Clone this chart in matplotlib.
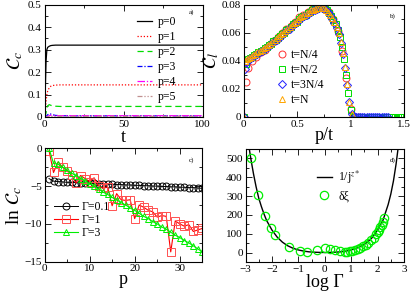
import matplotlib
matplotlib.use("Agg")
import matplotlib.pyplot as plt
from matplotlib.ticker import MultipleLocator, FixedLocator

plt.rcParams['font.family'] = ['Liberation Serif', 'DejaVu Serif']
plt.rcParams['mathtext.fontset'] = 'stix'

# ---------------- panel a data ----------------
t_a = [0, 0.5, 1, 1.5, 2, 3, 4, 5, 7, 10, 20, 40, 60, 80, 100]
a_p0 = [0, 0.12, 0.25, 0.30, 0.31, 0.315, 0.318, 0.319, 0.32, 0.32, 0.32, 0.32, 0.32, 0.32, 0.32]
a_p1 = [0, 0.03, 0.07, 0.10, 0.115, 0.13, 0.137, 0.14, 0.142, 0.143, 0.143, 0.143, 0.143, 0.143, 0.143]
a_p2 = [0, 0.005, 0.02, 0.04, 0.05, 0.055, 0.052, 0.05, 0.048, 0.047, 0.047, 0.047, 0.047, 0.047, 0.047]
a_p3 = [0, 0, 0.002, 0.006, 0.010, 0.015, 0.013, 0.010, 0.007, 0.006, 0.005, 0.005, 0.005, 0.005, 0.005]
a_p4 = [0, 0, 0, 0.001, 0.003, 0.006, 0.008, 0.007, 0.006, 0.006, 0.006, 0.006, 0.006, 0.006, 0.006]
a_p5 = [0, 0, 0, 0, 0.001, 0.002, 0.003, 0.003, 0.003, 0.003, 0.003, 0.003, 0.003, 0.003, 0.003]
a_labels = ["p=0", "p=1", "p=2", "p=3", "p=4", "p=5"]

# ---------------- panel b data ----------------
b_red_x = [0, 0.02, 0.04, 0.08, 0.12, 0.16, 0.20, 0.24, 0.28, 0.32, 0.36, 0.40, 0.44, 0.48, 0.52,
           0.56, 0.60, 0.64, 0.68, 0.72, 0.76, 0.80, 0.84, 0.88, 0.92, 0.96, 1.00, 1.04, 1.08]
b_red_y = [0, 0.025, 0.035, 0.040, 0.043, 0.046, 0.048, 0.051, 0.054, 0.057, 0.060, 0.063, 0.065,
           0.068, 0.071, 0.073, 0.075, 0.077, 0.079, 0.079, 0.078, 0.075, 0.070, 0.061, 0.047,
           0.028, 0.006, 0.0, 0.0]

b_grn_x = [0, 0.02, 0.04, 0.06, 0.08, 0.10, 0.12, 0.14, 0.16, 0.18, 0.20, 0.22, 0.24, 0.26, 0.28,
           0.30, 0.32, 0.34, 0.36, 0.38, 0.40, 0.42, 0.44, 0.46, 0.48, 0.50, 0.52, 0.54, 0.56, 0.58,
           0.60, 0.62, 0.64, 0.66, 0.68, 0.70, 0.72, 0.74, 0.76, 0.78, 0.80, 0.82, 0.84, 0.86, 0.88,
           0.90, 0.92, 0.94, 0.96, 0.98, 1.00, 1.02, 1.04, 1.06, 1.08, 1.10, 1.12, 1.14, 1.16, 1.18,
           1.20, 1.22, 1.24, 1.26, 1.28, 1.30, 1.32, 1.34, 1.36, 1.38, 1.40, 1.42, 1.44, 1.46, 1.48,
           1.50]
b_grn_y = [0, 0.038, 0.041, 0.042, 0.043, 0.044, 0.045, 0.046, 0.047, 0.048, 0.049, 0.050, 0.051,
           0.052, 0.054, 0.055, 0.056, 0.058, 0.059, 0.060, 0.062, 0.063, 0.064, 0.066, 0.067, 0.068,
           0.070, 0.071, 0.072, 0.073, 0.074, 0.075, 0.076, 0.077, 0.077, 0.078, 0.078, 0.078, 0.077,
           0.076, 0.074, 0.072, 0.069, 0.066, 0.062, 0.057, 0.050, 0.041, 0.030, 0.017, 0.005, 0.0,
           0.0, 0.0, 0.0, 0.0, 0.0, 0.0, 0.0, 0.0, 0.0, 0.0, 0.0, 0.0, 0.0, 0.0, 0.0, 0.0, 0.0, 0.0,
           0.0, 0.0, 0.0, 0.0, 0.0, 0.0]

b_blu_x = [0, 0.01, 0.03, 0.05, 0.07, 0.09, 0.11, 0.13, 0.15, 0.17, 0.19, 0.21, 0.23, 0.25, 0.27,
           0.29, 0.31, 0.33, 0.35, 0.37, 0.39, 0.41, 0.43, 0.45, 0.47, 0.49, 0.51, 0.53, 0.55, 0.57,
           0.59, 0.61, 0.63, 0.65, 0.67, 0.69, 0.71, 0.73, 0.75, 0.77, 0.79, 0.81, 0.83, 0.85, 0.87,
           0.89, 0.91, 0.93, 0.95, 0.97, 0.99, 1.01, 1.03, 1.05, 1.07, 1.09, 1.11, 1.13, 1.15, 1.17,
           1.19, 1.21, 1.23, 1.25, 1.27, 1.29, 1.31, 1.33, 1.35]
b_blu_y = [0, 0.034, 0.039, 0.041, 0.042, 0.043, 0.044, 0.045, 0.046, 0.047, 0.048, 0.049, 0.050,
           0.051, 0.0525, 0.054, 0.055, 0.0565, 0.058, 0.059, 0.0605, 0.062, 0.063, 0.0645, 0.066,
           0.067, 0.0685, 0.070, 0.071, 0.072, 0.073, 0.074, 0.075, 0.076, 0.0765, 0.077, 0.0775,
           0.0775, 0.077, 0.076, 0.0745, 0.0725, 0.070, 0.067, 0.0635, 0.059, 0.053, 0.045, 0.035,
           0.023, 0.011, 0.002, 0.0, 0.0, 0.0, 0.0, 0.0, 0.0, 0.0, 0.0, 0.0, 0.0, 0.0, 0.0, 0.0,
           0.0, 0.0, 0.0, 0.0]

b_org_x = [0, 0.01, 0.03, 0.05, 0.07, 0.09, 0.11, 0.13, 0.15, 0.17, 0.19, 0.21, 0.23, 0.25, 0.27,
           0.29, 0.31, 0.33, 0.35, 0.37, 0.39, 0.41, 0.43, 0.45, 0.47, 0.49, 0.51, 0.53, 0.55, 0.57,
           0.59, 0.61, 0.63, 0.65, 0.67, 0.69, 0.71, 0.73, 0.75, 0.77, 0.79, 0.81, 0.83, 0.85, 0.87,
           0.89, 0.91, 0.93, 0.95, 0.97, 0.99, 1.01]
b_org_y = [0, 0.040, 0.041, 0.042, 0.043, 0.044, 0.045, 0.046, 0.047, 0.048, 0.049, 0.050, 0.051,
           0.052, 0.0535, 0.055, 0.056, 0.0575, 0.059, 0.060, 0.0615, 0.063, 0.064, 0.0655, 0.067,
           0.068, 0.0695, 0.071, 0.072, 0.073, 0.074, 0.075, 0.076, 0.0765, 0.077, 0.0775, 0.078,
           0.078, 0.0775, 0.0765, 0.075, 0.073, 0.0705, 0.0675, 0.064, 0.0595, 0.0535, 0.0455,
           0.0355, 0.0235, 0.011, 0.002]
b_labels = ["t=N/4", "t=N/2", "t=3N/4", "t=N"]

# ---------------- panel c data ----------------
p_c = list(range(1, 36))
c_g01 = [-4.0, -4.35, -4.4, -4.45, -4.5, -4.5, -4.55, -4.6, -4.6, -4.65, -4.65, -4.7, -4.7, -4.75,
         -4.75, -4.8, -4.8, -4.85, -4.85, -4.9, -4.9, -4.95, -4.95, -5.0, -5.0, -5.05, -5.05, -5.1,
         -5.1, -5.15, -5.15, -5.2, -5.2, -5.25, -5.3]
c_g1 = [-0.3, -3.2, -1.8, -2.5, -3.0, -3.5, -4.6, -3.6, -4.0, -4.4, -3.9, -5.0, -5.3, -5.1, -7.6,
        -6.0, -6.8, -6.9, -6.8, -9.3, -7.5, -7.8, -8.2, -8.4, -9.1, -8.9, -9.0, -13.7, -9.6, -10.0,
        -10.3, -10.1, -11.0, -10.8, -10.6]
c_g3 = [0.0, -2.0, -2.1, -2.5, -2.9, -3.3, -3.6, -4.0, -4.3, -4.7, -5.0, -5.4, -5.8, -6.1, -6.5,
        -6.8, -7.2, -7.5, -7.9, -8.2, -8.6, -9.0, -9.3, -9.7, -10.0, -10.4, -10.7, -11.1, -11.5,
        -11.8, -12.2, -12.5, -12.9, -13.3, -13.7]
c_labels = ["Γ=0.1", "Γ=1", "Γ=3"]

# ---------------- panel d data ----------------
d_curve_x = [-2.95, -2.85, -2.8, -2.7, -2.6, -2.5, -2.4, -2.3, -2.2, -2.0, -1.8, -1.6, -1.4, -1.2,
             -1.0, -0.8, -0.6, -0.4, -0.2, 0.0, 0.2, 0.4, 0.6, 0.8, 1.0, 1.2, 1.4, 1.6, 1.8, 2.0,
             2.2, 2.4, 2.5, 2.6, 2.7, 2.8, 2.85]
d_curve_y = [650, 545, 500, 420, 350, 290, 245, 205, 170, 120, 82, 55, 36, 23, 14, 8, 4, 2, 1, 0.5,
             1, 2, 4, 8, 14, 23, 35, 53, 80, 120, 170, 255, 310, 380, 470, 580, 650]
d_pts_x = [-2.81, -2.54, -2.27, -2.04, -1.88, -1.36, -0.92, -0.67, -0.30, 0.0, 0.2, 0.39, 0.57,
           0.76, 0.85, 0.95, 1.05, 1.15, 1.25, 1.35, 1.45, 1.55, 1.65, 1.75, 1.85, 1.95, 2.0, 2.05,
           2.1, 2.15, 2.2, 2.25]
d_pts_y = [500, 308, 195, 131, 96, 30, 7, 4, 12, 25, 21, 12, 7, 4, 5, 8, 11, 15, 20, 26, 33, 42,
           52, 65, 80, 98, 110, 122, 135, 148, 165, 184]
d_labels = ["1/j$^{z*}$", "δξ"]

# ---------------- figure ----------------
fig = plt.figure(figsize=(4.11, 2.95), dpi=100)
W, H = 411, 295


def ax_at(l, t, r, b):
    return fig.add_axes([l / W, 1 - b / H, (r - l) / W, (b - t) / H])


ax_a = ax_at(44.5, 4.7, 202.5, 117)
ax_b = ax_at(243.5, 4.7, 404, 117)
ax_c = ax_at(44.5, 148.3, 202.3, 261.7)
ax_d = ax_at(245.5, 149, 404, 262)

TICKFS = 8
for ax in (ax_a, ax_b, ax_c, ax_d):
    ax.tick_params(which='both', direction='in', top=True, right=True, labelsize=TICKFS, pad=2,
                   width=0.6)
    ax.tick_params(which='major', length=4)
    ax.tick_params(which='minor', length=2)
    for s in ax.spines.values():
        s.set_linewidth(0.8)

lw = 0.9
# panel a
ax_a.plot(t_a, a_p0, color='black', lw=lw, label=a_labels[0])
ax_a.plot(t_a, a_p1, color='red', lw=lw, ls=(0, (1, 1.5)), label=a_labels[1])
ax_a.plot(t_a, a_p2, color='#00dd00', lw=lw, ls=(0, (5, 3)), label=a_labels[2])
ax_a.plot(t_a, a_p3, color='blue', lw=lw, ls=(0, (4, 1.5, 1, 1.5)), label=a_labels[3])
ax_a.plot(t_a, a_p4, color='magenta', lw=lw, ls=(0, (6, 1.5, 1, 1.5)), label=a_labels[4])
ax_a.plot(t_a, a_p5, color='#c09090', lw=lw, ls=(0, (4, 1.5, 1, 1.5, 1, 1.5)), label=a_labels[5])
ax_a.set_xlim(0, 100)
ax_a.set_ylim(0, 0.5)
ax_a.xaxis.set_major_locator(MultipleLocator(50))
ax_a.xaxis.set_minor_locator(MultipleLocator(25))
ax_a.set_yticks([0, 0.1, 0.2, 0.3, 0.4, 0.5])
ax_a.set_yticklabels(["0", "0.1", "0.2", "0.3", "0.4", "0.5"])
ax_a.yaxis.set_minor_locator(MultipleLocator(0.05))
ax_a.set_xlabel("t", fontsize=13, labelpad=0)
ax_a.set_ylabel(r"$\mathcal{C}_c$", fontsize=14, labelpad=2)
ax_a.legend(loc='upper left', bbox_to_anchor=(0.585, 0.895), frameon=False, fontsize=8.5,
            handlelength=1.3, handletextpad=0.45, labelspacing=0.25, borderpad=0, borderaxespad=0)
ax_a.text(0.93, 0.93, "a)", transform=ax_a.transAxes, fontsize=5, ha='center', va='center')

# panel b
ms_b = 5
mew = 0.7
ax_b.plot(b_red_x, b_red_y, ls='none', marker='o', ms=ms_b, mfc='none', mec='#ff3030', mew=mew,
          label=b_labels[0])
ax_b.plot(b_grn_x, b_grn_y, ls='none', marker='s', ms=ms_b - 0.5, mfc='none', mec='#00dd00',
          mew=mew, label=b_labels[1])
ax_b.plot(b_blu_x, b_blu_y, ls='none', marker='D', ms=ms_b - 0.8, mfc='none', mec='#2020ff',
          mew=mew, label=b_labels[2])
ax_b.plot(b_org_x, b_org_y, ls='none', marker='^', ms=ms_b, mfc='none', mec='#ffa500', mew=mew,
          label=b_labels[3])
ax_b.set_xlim(0, 1.5)
ax_b.set_ylim(0, 0.08)
ax_b.set_xticks([0, 0.5, 1, 1.5])
ax_b.set_xticklabels(["0", "0.5", "1", "1.5"])
ax_b.xaxis.set_minor_locator(MultipleLocator(0.25))
ax_b.set_yticks([0, 0.02, 0.04, 0.06, 0.08])
ax_b.set_yticklabels(["0", "0.02", "0.04", "0.06", "0.08"])
ax_b.yaxis.set_minor_locator(MultipleLocator(0.01))
ax_b.set_xlabel("p/t", fontsize=13, labelpad=-1)
ax_b.set_ylabel(r"$\mathcal{C}_l$", fontsize=14, labelpad=0)
ax_b.legend(loc='upper left', bbox_to_anchor=(0.2, 0.607), frameon=False, fontsize=8.5,
            handlelength=1.0, handletextpad=0.3, labelspacing=0.27, borderpad=0, borderaxespad=0)
ax_b.text(0.93, 0.9, "b)", transform=ax_b.transAxes, fontsize=5, ha='center', va='center')

# panel c
ms_c = 5
ax_c.plot(p_c, c_g01, color='black', lw=0.7, marker='o', ms=ms_c, mfc='none', mew=0.7,
          label=c_labels[0])
ax_c.plot(p_c, c_g1, color='red', lw=0.8, marker='s', ms=ms_c + 0.5, mfc='none', mec='#ff5050',
          mew=0.7, label=c_labels[1])
ax_c.plot(p_c, c_g3, color='#00ee00', lw=0.8, marker='^', ms=ms_c, mfc='none', mew=0.7,
          label=c_labels[2])
ax_c.set_xlim(0, 35)
ax_c.set_ylim(-15, 0)
ax_c.xaxis.set_major_locator(FixedLocator([0, 10, 20, 30]))
ax_c.xaxis.set_minor_locator(MultipleLocator(5))
ax_c.yaxis.set_major_locator(MultipleLocator(5))
ax_c.yaxis.set_minor_locator(MultipleLocator(2.5))
ax_c.set_xlabel("p", fontsize=13, labelpad=-2)
ax_c.set_ylabel(r"ln $\mathcal{C}_c$", fontsize=14, labelpad=0)
ax_c.legend(loc='upper left', bbox_to_anchor=(0.06, 0.535), frameon=False, fontsize=8.5,
            handlelength=2.0, handletextpad=0.3, labelspacing=0.1, borderpad=0, borderaxespad=0)
ax_c.text(0.93, 0.9, "c)", transform=ax_c.transAxes, fontsize=5, ha='center', va='center')

# panel d
ax_d.plot(d_curve_x, d_curve_y, color='black', lw=1.0, label=d_labels[0])
ax_d.plot(d_pts_x, d_pts_y, ls='none', marker='o', ms=6, mfc='none', mec='#00ee00', mew=0.9,
          label=d_labels[1])
ax_d.set_xlim(-3, 3)
ax_d.set_ylim(-50, 550)
ax_d.xaxis.set_major_locator(MultipleLocator(1))
ax_d.xaxis.set_minor_locator(MultipleLocator(0.5))
ax_d.set_yticks([0, 100, 200, 300, 400, 500])
ax_d.yaxis.set_minor_locator(MultipleLocator(50))
ax_d.set_xlabel("log Γ", fontsize=13, labelpad=0)
ax_d.legend(loc='upper left', bbox_to_anchor=(0.45, 0.823), frameon=False, fontsize=8.5,
            handlelength=1.3, handletextpad=0.5, labelspacing=0.35, borderpad=0, borderaxespad=0)
ax_d.text(0.93, 0.9, "d)", transform=ax_d.transAxes, fontsize=5, ha='center', va='center')

fig.savefig("out.png", dpi=100)
